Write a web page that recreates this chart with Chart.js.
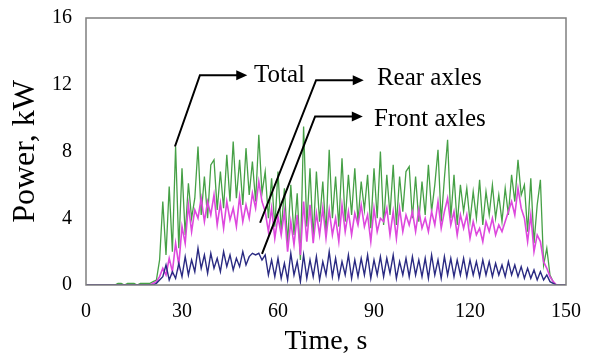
<!DOCTYPE html>
<html>
<head>
<meta charset="utf-8">
<script src="https://cdn.jsdelivr.net/npm/chart.js@4/dist/chart.umd.min.js"></script>
<style>
  html, body { margin: 0; padding: 0; background: #fff; }
  #wrap { width: 598px; height: 358px; }
</style>
</head>
<body>
<div id="wrap"><canvas id="powerChart" width="598" height="358"></canvas></div>
<script>
// Power draw sampled once per second, t = 0 .. 150 s
const totalPower = [
  0, 0, 0, 0, 0, 0, 0, 0, 0, 0,
  0.1, 0.1, 0, 0.1, 0.1, 0.1, 0, 0.1, 0.1, 0.1,
  0.1, 0.2, 0.3, 1.5, 5.0, 1.8, 5.9, 2.0, 8.3, 2.2,
  7.0, 3.0, 6.1, 4.0, 5.2, 8.3, 4.2, 6.5, 4.0, 7.2,
  7.5, 4.5, 6.8, 4.6, 7.8, 5.0, 8.6, 5.2, 7.5, 4.8,
  8.2, 5.4, 7.4, 5.0, 9.0, 5.5, 6.8, 4.0, 6.4, 3.5,
  6.8, 3.2, 5.8, 2.5, 6.0, 3.0, 5.5, 1.5, 9.5, 3.5,
  7.0, 2.8, 6.8, 3.8, 6.2, 3.0, 8.1, 4.0, 6.5, 3.5,
  7.6, 3.8, 6.6, 4.2, 7.0, 3.8, 6.2, 4.5, 6.6, 3.4,
  7.0, 4.0, 8.0, 3.6, 6.6, 4.2, 7.2, 3.6, 6.5, 4.4,
  6.8, 7.1, 4.0, 6.5, 3.8, 6.2, 4.2, 7.2, 4.4, 6.0,
  8.1, 3.8, 6.4, 8.7, 4.0, 6.6, 3.6, 6.0, 4.4, 5.8,
  3.8, 5.6, 4.0, 6.3, 3.6, 5.6, 4.2, 6.0, 4.0, 5.4,
  3.8, 5.8, 4.2, 6.6, 5.0, 7.5, 5.4, 6.0, 3.2, 6.4,
  2.5, 4.8, 6.3, 1.2, 2.2, 0.6, 0.2, 0, 0, 0,
  0
];
const rearPower = [
  0, 0, 0, 0, 0, 0, 0, 0, 0, 0,
  0, 0, 0, 0, 0, 0, 0, 0, 0, 0,
  0, 0.1, 0.2, 0.5, 1.0, 0.6, 1.6, 0.8, 2.5, 1.2,
  3.5, 2.5, 4.8, 3.2, 4.5, 4.0, 5.2, 3.8, 5.0, 4.2,
  5.4, 3.6, 4.9, 3.4, 5.0, 3.9, 4.6, 3.5, 5.3, 3.8,
  4.8, 4.0, 5.5, 4.6, 6.2, 5.0, 4.4, 3.2, 4.6, 2.8,
  4.1, 3.0, 4.4, 2.0, 3.8, 2.4, 4.2, 1.8, 5.0, 2.6,
  4.8, 2.5, 4.3, 3.0, 4.6, 2.8, 4.5, 3.0, 4.0, 2.6,
  4.8, 3.2, 4.4, 3.0, 4.3, 3.6, 4.8, 3.5, 4.2, 2.6,
  4.6, 3.2, 4.0, 3.8, 4.6, 3.0, 4.4, 2.8, 4.6, 3.2,
  4.2, 3.6, 4.4, 3.2, 4.5, 3.4, 4.0, 3.2, 4.4, 3.6,
  5.0, 3.4, 4.4, 5.2, 3.6, 4.4, 3.0, 4.2, 3.4, 4.2,
  2.8, 3.8, 3.0, 3.4, 2.6, 3.8, 3.2, 4.0, 3.0, 3.6,
  3.2, 3.8, 4.4, 5.0, 4.2, 5.8, 4.6, 4.0, 2.6, 4.2,
  2.0, 3.0, 2.6, 1.4, 1.0, 0.5, 0.2, 0, 0, 0,
  0
];
const frontPower = [
  0, 0, 0, 0, 0, 0, 0, 0, 0, 0,
  0, 0, 0, 0, 0, 0, 0, 0, 0, 0,
  0, 0, 0.1, 0.3, 0.5, 1.2, 0.3, 0.8, 0.4, 1.3,
  0.5, 1.7, 0.6, 1.5, 0.8, 2.2, 1.0, 1.8, 0.7, 1.9,
  1.0, 1.6, 0.8, 2.0, 1.1, 1.8, 0.9, 1.6, 1.1, 2.0,
  1.2, 1.7, 1.9, 1.8, 1.9, 1.5, 1.8, 0.6, 1.5, 0.5,
  1.6, 0.4, 1.3, 0.3, 1.9, 0.6, 1.4, 0.2, 1.8, 0.4,
  1.5, 0.5, 1.7, 0.3, 1.4, 0.6, 2.0, 0.5, 1.6, 0.4,
  1.4, 0.6, 1.8, 0.4, 1.5, 0.5, 1.6, 0.6, 1.8, 0.4,
  1.5, 0.6, 1.7, 0.5, 1.6, 0.7, 1.8, 0.4, 1.4, 0.6,
  1.6, 0.5, 1.7, 0.6, 1.5, 0.5, 1.6, 0.4, 1.8, 0.6,
  1.5, 0.4, 1.7, 0.6, 1.6, 0.5, 1.5, 0.6, 1.6, 0.5,
  1.5, 0.6, 1.4, 0.5, 1.5, 0.6, 1.4, 0.5, 1.3, 0.6,
  1.2, 0.5, 1.4, 0.6, 1.2, 0.5, 1.1, 0.4, 1.0, 0.4,
  0.9, 0.3, 0.8, 0.3, 0.6, 0.2, 0.1, 0, 0, 0,
  0
];

const xTicks = [0, 30, 60, 90, 120, 150];
const yTicks = [0, 4, 8, 12, 16];

// callouts: [label, start point, elbow point, arrow tip, label start] in (s, kW)
const callouts = [
  ['Total',       [27.8, 8.3],  [35.6, 12.57], [50.4, 12.57], [52.5, 12.57]],
  ['Rear axles',  [54.4, 3.73], [71.9, 12.27], [86.8, 12.27], [90.9, 12.4]],
  ['Front axles', [55.0, 1.86], [71.6, 10.1],  [86.5, 10.1],  [90.0, 9.9]]
];

const serif = '"Liberation Serif", "Times New Roman", serif';

function toPoints(values) {
  return values.map((v, i) => ({ x: i, y: v }));
}

const framePlugin = {
  id: 'frame',
  afterDatasetsDraw(chart) {
    const { ctx, chartArea: a } = chart;
    ctx.save();
    ctx.strokeStyle = '#7f7f7f';
    ctx.lineWidth = 1.5;
    ctx.strokeRect(a.left, a.top, a.right - a.left, a.bottom - a.top);
    ctx.restore();
  }
};

const calloutPlugin = {
  id: 'callouts',
  afterDraw(chart) {
    const { ctx } = chart;
    const xs = chart.scales.x, ys = chart.scales.y;
    const px = p => [xs.getPixelForValue(p[0]), ys.getPixelForValue(p[1])];
    ctx.save();
    ctx.strokeStyle = '#000';
    ctx.fillStyle = '#000';
    ctx.lineWidth = 2;
    ctx.font = '25px ' + serif;
    ctx.textBaseline = 'middle';
    callouts.forEach(([label, start, elbow, tip, textAt]) => {
      const s = px(start), e = px(elbow), t = px(tip), l = px(textAt);
      ctx.beginPath();
      ctx.moveTo(s[0], s[1]);
      ctx.lineTo(e[0], e[1]);
      ctx.lineTo(t[0] - 8, t[1]);
      ctx.stroke();
      ctx.beginPath();
      ctx.moveTo(t[0], t[1]);
      ctx.lineTo(t[0] - 11, t[1] - 5);
      ctx.lineTo(t[0] - 11, t[1] + 5);
      ctx.closePath();
      ctx.fill();
      ctx.fillText(label, l[0], l[1]);
    });
    ctx.restore();
  }
};

new Chart(document.getElementById('powerChart'), {
  type: 'line',
  data: {
    datasets: [
      { label: 'Front axles', data: toPoints(frontPower), borderColor: '#2a2a82', borderWidth: 1.4, order: 1 },
      { label: 'Rear axles', data: toPoints(rearPower), borderColor: '#dd48dd', borderWidth: 1.6, order: 2 },
      { label: 'Total', data: toPoints(totalPower), borderColor: '#46a046', borderWidth: 1.3, order: 3 }
    ]
  },
  options: {
    responsive: false,
    animation: false,
    events: [],
    elements: { point: { radius: 0 }, line: { tension: 0 } },
    layout: { padding: { left: 0, right: 32, top: 5, bottom: 0 } },
    plugins: { legend: { display: false }, tooltip: { enabled: false } },
    scales: {
      x: {
        type: 'linear',
        min: 0, max: 150,
        grid: { display: false },
        border: { display: false },
        afterBuildTicks: axis => { axis.ticks = xTicks.map(v => ({ value: v })); },
        afterFit: axis => { axis.height = 73; },
        ticks: { padding: 7, color: '#000', font: { family: serif, size: 20 } },
        title: { display: true, text: 'Time, s', color: '#000', padding: { top: 0, bottom: 0 }, font: { family: serif, size: 28 } }
      },
      y: {
        min: 0, max: 16,
        grid: { display: false },
        border: { display: false },
        afterBuildTicks: axis => { axis.ticks = yTicks.map(v => ({ value: v })); },
        afterFit: axis => { axis.width = 86; },
        ticks: { padding: 6, color: '#000', font: { family: serif, size: 20 } },
        title: { display: true, text: 'Power, kW', color: '#000', padding: { top: 6, bottom: 0 }, font: { family: serif, size: 32 } }
      }
    }
  },
  plugins: [framePlugin, calloutPlugin]
});
</script>
</body>
</html>
